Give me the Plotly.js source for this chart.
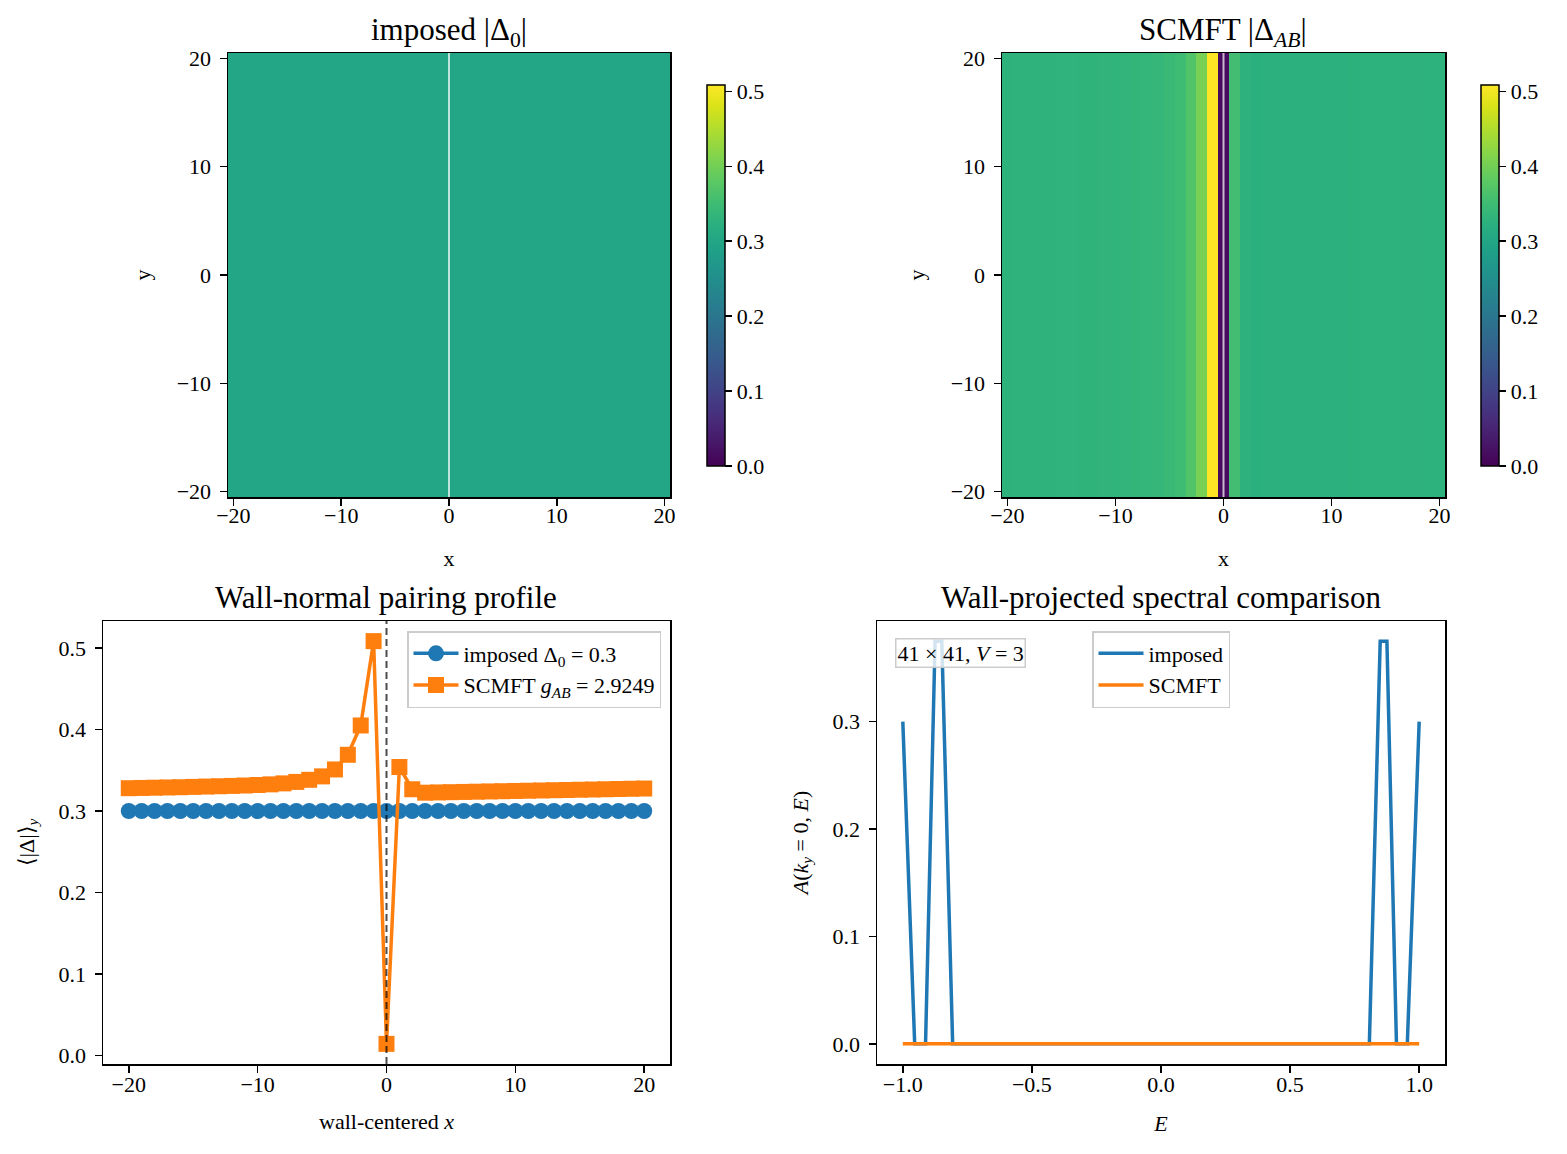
<!DOCTYPE html>
<html>
<head>
<meta charset="utf-8">
<script src="https://cdn.plot.ly/plotly-3.0.1.min.js"></script>
<style>
  html, body { margin: 0; padding: 0; background: #ffffff; }
  #chart { width: 1567px; height: 1154px; }
</style>
</head>
<body>
<div id="chart"></div>
<script>
// Lattice sites across the wall (x) and along it (y)
const sitesX = [-20,-19,-18,-17,-16,-15,-14,-13,-12,-11,-10,-9,-8,-7,-6,-5,-4,-3,-2,-1,0,
                1,2,3,4,5,6,7,8,9,10,11,12,13,14,15,16,17,18,19,20];
const sitesY = [-20,-19,-18,-17,-16,-15,-14,-13,-12,-11,-10,-9,-8,-7,-6,-5,-4,-3,-2,-1,0,
                1,2,3,4,5,6,7,8,9,10,11,12,13,14,15,16,17,18,19,20];

// y-averaged pairing amplitude per column
const imposedProfile = [0.3,0.3,0.3,0.3,0.3,0.3,0.3,0.3,0.3,0.3,0.3,0.3,0.3,0.3,0.3,0.3,0.3,0.3,0.3,0.3,0.3,
                        0.3,0.3,0.3,0.3,0.3,0.3,0.3,0.3,0.3,0.3,0.3,0.3,0.3,0.3,0.3,0.3,0.3,0.3,0.3,0.3];
const scmftProfile = [0.3280,0.3283,0.3286,0.3289,0.3292,0.3296,0.3300,0.3304,0.3308,0.3313,
                      0.3319,0.3327,0.3339,0.3357,0.3383,0.3425,0.3510,0.3690,0.4050,0.5085,
                      0.0142,
                      0.3540,0.3267,0.3225,0.3228,0.3231,0.3234,0.3237,0.3240,0.3243,0.3246,
                      0.3249,0.3252,0.3255,0.3258,0.3261,0.3264,0.3267,0.3270,0.3273,0.3276];

// Wall-projected spectral weight A(k_y = 0, E)
const energiesImposed = [-1.0,-0.954,-0.912,-0.875,-0.849,-0.807,0.807,0.849,0.875,0.912,0.954,1.0];
const spectralImposed = [0.3,0.0,0.0,0.375,0.375,0.0,0.0,0.375,0.375,0.0,0.0,0.3];
const energiesScmft = [-1.0, 1.0];
const spectralScmft = [0.0, 0.0];

const mapTicks = [-20, -10, 0, 10, 20];
const colorTicks = [0.0, 0.1, 0.2, 0.3, 0.4, 0.5];

const BLUE = '#1f77b4', ORANGE = '#ff7f0e';
const FONT = 'Liberation Serif, Times New Roman, serif';
const FS = 22;       // tick, label and legend text
const FS_TITLE = 31; // panel titles

// Field maps: every row along y repeats the column profile
const imposedMap = sitesY.map(() => imposedProfile.slice());
const scmftMap = sitesY.map(() => scmftProfile.slice());
const zTop = Math.max(...scmftProfile);

const W = 1567, H = 1154;
const px = v => v / W;
const py = v => 1 - v / H;

function cbar(left) {
  return {
    x: px(left), xanchor: 'left', xref: 'paper', xpad: 0, ypad: 0,
    y: py((85 + 466) / 2), yanchor: 'middle', yref: 'paper',
    len: (466 - 85) / H, lenmode: 'fraction',
    thickness: 18, thicknessmode: 'pixels',
    outlinewidth: 1.5, outlinecolor: '#000',
    ticks: 'outside', ticklen: 7, tickwidth: 1.5, tickcolor: '#000',
    ticklabelstandoff: 3,
    tickvals: colorTicks, tickformat: '.1f',
    tickfont: { family: FONT, size: FS, color: '#000' }
  };
}

const traces = [
  {
    type: 'heatmap', x: sitesX, y: sitesY, z: imposedMap,
    colorscale: 'Viridis', zmin: 0, zmax: zTop, zsmooth: false,
    colorbar: cbar(707), xaxis: 'x', yaxis: 'y', hoverinfo: 'skip'
  },
  {
    type: 'heatmap', x: sitesX, y: sitesY, z: scmftMap,
    colorscale: 'Viridis', zmin: 0, zmax: zTop, zsmooth: false,
    colorbar: cbar(1481), xaxis: 'x2', yaxis: 'y2', hoverinfo: 'skip'
  },
  {
    type: 'scatter', mode: 'lines+markers', x: sitesX, y: imposedProfile,
    name: 'imposed Δ<sub>0</sub> = 0.3',
    line: { color: BLUE, width: 3.5 },
    marker: { symbol: 'circle', size: 16, color: BLUE, line: { width: 0 } },
    xaxis: 'x3', yaxis: 'y3', legend: 'legend'
  },
  {
    type: 'scatter', mode: 'lines+markers', x: sitesX, y: scmftProfile,
    name: 'SCMFT <i>g</i><sub><i>AB</i></sub> = 2.9249',
    line: { color: ORANGE, width: 3.5 },
    marker: { symbol: 'square', size: 16, color: ORANGE, line: { width: 0 } },
    xaxis: 'x3', yaxis: 'y3', legend: 'legend'
  },
  {
    type: 'scatter', mode: 'lines', x: energiesImposed, y: spectralImposed,
    name: 'imposed', line: { color: BLUE, width: 3.5 },
    xaxis: 'x4', yaxis: 'y4', legend: 'legend2'
  },
  {
    type: 'scatter', mode: 'lines', x: energiesScmft, y: spectralScmft,
    name: 'SCMFT', line: { color: ORANGE, width: 3.5 },
    xaxis: 'x4', yaxis: 'y4', legend: 'legend2'
  }
];

function axis(extra, standoff) {
  return Object.assign({
    showline: true, linecolor: '#000', linewidth: 1.5, mirror: true,
    ticks: 'outside', ticklen: 7, tickwidth: 1.5, tickcolor: '#000',
    ticklabelstandoff: standoff,
    showgrid: false, zeroline: false, automargin: false,
    tickfont: { family: FONT, size: FS, color: '#000' }
  }, extra);
}
function axTitle(text, standoff) {
  return { text: text, standoff: standoff, font: { family: FONT, size: FS, color: '#000' } };
}

const topDom = [py(497), py(53)];
const botDom = [py(1064), py(621)];

const legendStyle = {
  bgcolor: 'rgba(255,255,255,0.8)', bordercolor: '#cccccc', borderwidth: 1.5,
  font: { family: FONT, size: FS, color: '#000' }, tracegroupgap: 0, itemwidth: 45
};

const layout = {
  width: W, height: H,
  margin: { l: 0, r: 0, t: 0, b: 0 },
  paper_bgcolor: '#fff', plot_bgcolor: '#fff',
  font: { family: FONT, color: '#000' },
  xaxis: axis({ domain: [px(228), px(670)], range: [-20.5, 20.5], anchor: 'y',
                tickvals: mapTicks, title: axTitle('x', 23) }, -9),
  yaxis: axis({ domain: topDom, range: [-20.5, 20.5], anchor: 'x',
                tickvals: mapTicks, title: axTitle('y', 20) }, 4),
  xaxis2: axis({ domain: [px(1002), px(1445)], range: [-20.5, 20.5], anchor: 'y2',
                 tickvals: mapTicks, title: axTitle('x', 23) }, -9),
  yaxis2: axis({ domain: topDom, range: [-20.5, 20.5], anchor: 'x2',
                 tickvals: mapTicks, title: axTitle('y', 20) }, 4),
  xaxis3: axis({ domain: [px(103), px(670)], range: [-22, 22], anchor: 'y3',
                 tickvals: mapTicks, title: axTitle('wall-centered <i>x</i>', 17) }, -7),
  yaxis3: axis({ domain: botDom, range: [-0.0105, 0.5332], anchor: 'x3',
                 tickvals: colorTicks, tickformat: '.1f',
                 title: axTitle('⟨|Δ|⟩<sub><i>y</i></sub>', 18) }, 4),
  xaxis4: axis({ domain: [px(877), px(1445)], range: [-1.1, 1.1], anchor: 'y4',
                 tickvals: [-1, -0.5, 0, 0.5, 1], tickformat: '.1f',
                 title: axTitle('<i>E</i>', 19) }, -7),
  yaxis4: axis({ domain: botDom, range: [-0.01875, 0.39375], anchor: 'x4',
                 tickvals: [0, 0.1, 0.2, 0.3], tickformat: '.1f',
                 title: axTitle('<i>A</i>(<i>k</i><sub><i>y</i></sub> = 0, <i>E</i>)', 18) }, 4),
  legend: Object.assign({ x: px(661), xanchor: 'right', y: py(631), yanchor: 'top' }, legendStyle),
  legend2: Object.assign({ x: px(1161), xanchor: 'center', y: py(631), yanchor: 'top' }, legendStyle),
  shapes: [
    { type: 'line', xref: 'x', yref: 'y domain', x0: 0, x1: 0, y0: 0, y1: 1,
      line: { color: 'rgba(255,255,255,0.7)', width: 2 }, layer: 'above' },
    { type: 'line', xref: 'x2', yref: 'y2 domain', x0: 0, x1: 0, y0: 0, y1: 1,
      line: { color: 'rgba(255,255,255,0.7)', width: 2 }, layer: 'above' },
    { type: 'line', xref: 'x3', yref: 'y3 domain', x0: 0, x1: 0, y0: 0, y1: 1,
      line: { color: 'rgba(0,0,0,0.7)', width: 2, dash: '7px,4px' }, layer: 'above' }
  ],
  annotations: [
    { text: 'imposed |Δ<sub>0</sub>|', xref: 'paper', yref: 'paper',
      x: px(449), y: py(32), xanchor: 'center', yanchor: 'middle', showarrow: false,
      font: { family: FONT, size: FS_TITLE, color: '#000' } },
    { text: 'SCMFT |Δ<sub><i>AB</i></sub>|', xref: 'paper', yref: 'paper',
      x: px(1223), y: py(32), xanchor: 'center', yanchor: 'middle', showarrow: false,
      font: { family: FONT, size: FS_TITLE, color: '#000' } },
    { text: 'Wall-normal pairing profile', xref: 'paper', yref: 'paper',
      x: px(386), y: py(597), xanchor: 'center', yanchor: 'middle', showarrow: false,
      font: { family: FONT, size: FS_TITLE, color: '#000' } },
    { text: 'Wall-projected spectral comparison', xref: 'paper', yref: 'paper',
      x: px(1161), y: py(597), xanchor: 'center', yanchor: 'middle', showarrow: false,
      font: { family: FONT, size: FS_TITLE, color: '#000' } },
    { text: '41 × 41, <i>V</i> = 3', xref: 'paper', yref: 'paper',
      x: px(895), y: py(638), xanchor: 'left', yanchor: 'top', showarrow: false,
      bgcolor: 'rgba(255,255,255,0.8)', bordercolor: '#cccccc', borderwidth: 1.5, borderpad: 1,
      font: { family: FONT, size: FS, color: '#000' } }
  ]
};

Plotly.newPlot('chart', traces, layout, { displayModeBar: false, staticPlot: true });
</script>
</body>
</html>
